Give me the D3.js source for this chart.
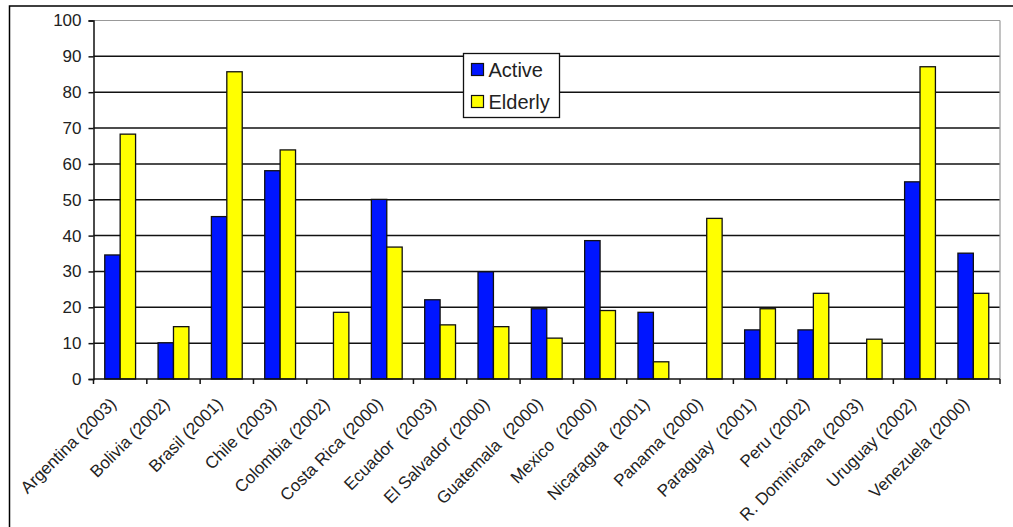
<!doctype html>
<html>
<head>
<meta charset="utf-8">
<title>Active vs Elderly</title>
<script src="https://d3js.org/d3.v7.min.js"></script>
<style>
  body { margin: 0; background: #fff; }
  text { font-family: "Liberation Sans", Arial, sans-serif; fill: #222; }
</style>
</head>
<body>
<div id="chart"></div>
<script>
const countries = ["Argentina (2003)", "Bolivia (2002)", "Brasil (2001)", "Chile (2003)",
  "Colombia (2002)", "Costa Rica (2000)", "Ecuador  (2003)", "El Salvador (2000)",
  "Guatemala  (2000)", "Mexico  (2000)", "Nicaragua  (2001)", "Panama (2000)",
  "Paraguay  (2001)", "Peru (2002)", "R. Dominicana (2003)", "Uruguay (2002)", "Venezuela (2000)"];
const active  = [34.6, 10.1, 45.3, 58.1, null, 50.1, 22.1, 29.9, 19.6, 38.6, 18.6, null, 13.7, 13.7, null, 55.0, 35.1];
const elderly = [68.3, 14.6, 85.7, 63.9, 18.6, 36.8, 15.1, 14.6, 11.4, 19.1, 4.8, 44.8, 19.6, 23.9, 11.1, 87.1, 23.9];
const seriesNames = ["Active", "Elderly"];
const colors = ["#0015ff", "#ffff00"];
const yTicks = [0, 10, 20, 30, 40, 50, 60, 70, 80, 90, 100];

const w = 1013, h = 527;
const plotLeft = 93.5, plotRight = 1000, plotTop = 20.5, plotBottom = 379;

const svg = d3.select("#chart").append("svg")
  .attr("width", w).attr("height", h);

// outer chart frame (runs off the picture on the right and bottom)
svg.append("rect")
  .attr("x", 9.5).attr("y", 6).attr("width", 1030).attr("height", 560)
  .attr("fill", "none").attr("stroke", "#000").attr("stroke-width", 1.5);

const x0 = d3.scaleBand().domain(countries).range([plotLeft, plotRight]).padding(0);
const x1 = d3.scaleBand().domain(seriesNames).range([0, x0.bandwidth()])
  .paddingInner(0).paddingOuter(0.73);
const y = d3.scaleLinear().domain([0, 100]).range([plotBottom, plotTop]);

// gridlines
svg.append("g").selectAll("line")
  .data(yTicks.filter(t => t > 0))
  .join("line")
  .attr("x1", plotLeft).attr("x2", plotRight)
  .attr("y1", d => y(d)).attr("y2", d => y(d))
  .attr("stroke", d => d === 100 ? "#999" : "#111")
  .attr("stroke-width", d => d === 100 ? 1.2 : 1.5);

// right border of plot area
svg.append("line")
  .attr("x1", plotRight).attr("x2", plotRight).attr("y1", plotTop).attr("y2", plotBottom)
  .attr("stroke", "#999").attr("stroke-width", 1.2);

// bars
const groups = svg.append("g").selectAll("g")
  .data(countries)
  .join("g")
  .attr("transform", d => `translate(${x0(d)},0)`);

groups.selectAll("rect")
  .data((d, i) => [
    { s: "Active", v: active[i], c: colors[0] },
    { s: "Elderly", v: elderly[i], c: colors[1] }
  ].filter(b => b.v != null))
  .join("rect")
  .attr("x", d => x1(d.s))
  .attr("y", d => y(d.v))
  .attr("width", x1.bandwidth())
  .attr("height", d => y(0) - y(d.v))
  .attr("fill", d => d.c)
  .attr("stroke", "#111")
  .attr("stroke-width", 1.3);

// y axis
const yAxis = d3.axisLeft(y).tickValues(yTicks).tickSize(5).tickPadding(7);
const gy = svg.append("g")
  .attr("transform", `translate(${plotLeft},0)`)
  .call(yAxis);
gy.select(".domain").attr("stroke", "#111").attr("stroke-width", 1.5);
gy.selectAll(".tick line").attr("stroke", "#111").attr("stroke-width", 1.5);
gy.selectAll("text").style("font-size", "17px").attr("fill", "#222")
  .style("font-family", "'Liberation Sans', Arial, sans-serif");

// x axis: ticks at category boundaries
const gx = svg.append("g");
gx.append("line")
  .attr("x1", plotLeft).attr("x2", plotRight).attr("y1", plotBottom).attr("y2", plotBottom)
  .attr("stroke", "#111").attr("stroke-width", 1.5);
gx.selectAll("line.tk")
  .data(countries.concat(["end"]))
  .join("line")
  .attr("class", "tk")
  .attr("x1", (d, i) => i < countries.length ? x0(d) : plotRight)
  .attr("x2", (d, i) => i < countries.length ? x0(d) : plotRight)
  .attr("y1", plotBottom).attr("y2", plotBottom + 5)
  .attr("stroke", "#111").attr("stroke-width", 1.5);

gx.selectAll("text")
  .data(countries)
  .join("text")
  .attr("transform", d => `translate(${x0(d) + x0.bandwidth() / 2 - 3},${plotBottom + 26}) rotate(-45)`)
  .attr("text-anchor", "end")
  .style("font-size", "17px")
  .style("white-space", "pre")
  .text(d => d);

// legend
const lg = svg.append("g").attr("transform", "translate(463.5,53.5)");
lg.append("rect")
  .attr("width", 96).attr("height", 64)
  .attr("fill", "#fff").attr("stroke", "#111").attr("stroke-width", 1.3);
const items = lg.selectAll("g.item")
  .data(seriesNames)
  .join("g")
  .attr("class", "item")
  .attr("transform", (d, i) => `translate(8,${10 + i * 32})`);
items.append("rect")
  .attr("width", 12).attr("height", 12)
  .attr("fill", (d, i) => colors[i])
  .attr("stroke", "#111").attr("stroke-width", 1.2);
items.append("text")
  .attr("x", 17).attr("y", 13)
  .style("font-size", "20px")
  .text(d => d);
</script>
</body>
</html>
